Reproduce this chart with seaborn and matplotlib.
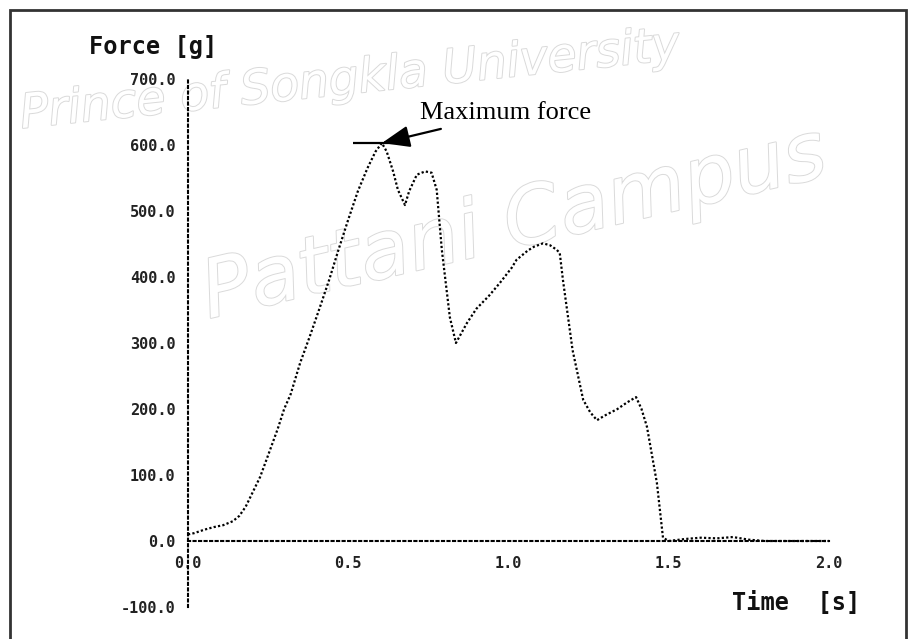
import matplotlib
matplotlib.use("Agg")
import matplotlib.pyplot as plt
import matplotlib.patheffects as pe
from matplotlib.patches import Rectangle
import seaborn as sns
import pandas as pd

# ---- data ----
time_s = [0.00, 0.02, 0.05, 0.08, 0.11, 0.14, 0.16, 0.18, 0.20, 0.225,
          0.25, 0.28, 0.30, 0.32, 0.35, 0.38, 0.41, 0.44, 0.47, 0.50,
          0.53, 0.56, 0.585, 0.605, 0.62, 0.64, 0.655, 0.677, 0.69, 0.714,
          0.74, 0.76, 0.776, 0.792, 0.817, 0.836, 0.87, 0.90, 0.94, 0.973,
          1.01, 1.025, 1.06, 1.08, 1.108, 1.13, 1.151, 1.16, 1.17, 1.20,
          1.233, 1.255, 1.276, 1.30, 1.34, 1.37, 1.398, 1.415, 1.432, 1.463,
          1.482, 1.50, 1.55, 1.60, 1.65, 1.70, 1.75, 1.80, 1.90, 2.00]
force_g = [10, 12, 17, 21, 24, 30, 38, 52, 72, 97,
           130, 170, 200, 222, 270, 310, 352, 395, 442, 487,
           530, 565, 590, 603, 590, 560, 532, 509, 530, 555,
           560, 558, 532, 441, 339, 300, 330, 352, 372, 391,
           414, 426, 440, 446, 451, 448, 441, 436, 395, 289,
           214, 195, 183, 190, 200, 210, 218, 200, 173, 88,
           5, 0, 3, 5, 4, 6, 2, 0, 0, 0]
x_ticks = [0.0, 0.5, 1.0, 1.5, 2.0]
y_ticks = [-100, 0, 100, 200, 300, 400, 500, 600, 700]
x_label = "Time  [s]"
y_label = "Force [g]"
annotation_text = "Maximum force"
watermark_lines = ["Prince of Songkla University", "Pattani Campus"]

df = pd.DataFrame({"time": time_s, "force": force_g})

sns.set_style("white")
plt.rcParams["font.family"] = ["DejaVu Sans Mono", "DejaVu Sans"]

W, H = 908, 639
fig = plt.figure(figsize=(W / 100, H / 100), dpi=100)

def fx(px):
    return px / W

def fy(py):
    return 1 - py / H

# watermark (behind everything)
wm_color = "#dadada"
fig.text(fx(18), fy(128), watermark_lines[0], fontsize=34, style="italic",
         family="DejaVu Sans", color="white", rotation=6, zorder=-5,
         ha="left", va="baseline",
         path_effects=[pe.withStroke(linewidth=1.4, foreground=wm_color)])
fig.text(fx(195), fy(318), watermark_lines[1], fontsize=58, style="italic",
         family="DejaVu Sans", color="white", rotation=13, zorder=-5,
         ha="left", va="baseline",
         path_effects=[pe.withStroke(linewidth=1.4, foreground=wm_color)])

# frame around the figure
fig.patches.append(Rectangle((fx(10), -0.05), fx(896), fy(10) + 0.05,
                             transform=fig.transFigure, fill=False,
                             edgecolor="#333333", linewidth=2, zorder=10))

ax = fig.add_axes([fx(188), fy(607), fx(829) - fx(188), fy(79) - fy(607)])
ax.patch.set_alpha(0)

sns.lineplot(data=df, x="time", y="force", ax=ax, color="black",
             linewidth=1.6, linestyle=(0, (1, 1)), estimator=None, sort=False)

ax.set_xlim(0, 2.0)
ax.set_ylim(-100, 700)
ax.set_xticks(x_ticks)
ax.set_yticks(y_ticks)
ax.set_xticklabels([f"{v:.1f}" for v in x_ticks])
ax.set_yticklabels([f"{v:.1f}" for v in y_ticks])
ax.set_xlabel("")
ax.set_ylabel("")

for s in ["top", "right"]:
    ax.spines[s].set_visible(False)
ax.spines["bottom"].set_position(("data", 0))
for s in ["left", "bottom"]:
    ax.spines[s].set_linestyle(":")
    ax.spines[s].set_linewidth(1.5)
    ax.spines[s].set_color("black")

ax.tick_params(axis="both", direction="out", length=6, width=1.2,
               color="black", labelsize=11, labelcolor="#222222")
ax.tick_params(axis="y", pad=3)
ax.tick_params(axis="x", pad=5)
for lab in ax.get_xticklabels() + ax.get_yticklabels():
    lab.set_fontweight("bold")

# annotation: maximum force
i_max = max(range(len(force_g)), key=lambda i: force_g[i])
t_max, f_max = time_s[i_max], force_g[i_max]
ax.hlines(f_max, t_max - 0.09, t_max + 0.063, color="black", linewidth=1.6)
ax.annotate(annotation_text, xy=(t_max, f_max), xytext=(t_max + 0.12, 648),
            textcoords="data", fontsize=19, family="Liberation Serif",
            ha="left", va="center", color="black",
            arrowprops=dict(arrowstyle="-|>,head_length=0.9,head_width=0.35",
                            color="black", linewidth=1.6,
                            shrinkA=4, shrinkB=0))

fig.text(fx(153), fy(47), y_label, fontsize=17, fontweight="bold",
         ha="center", va="center", color="#111111")
fig.text(fx(796), fy(603), x_label, fontsize=17, fontweight="bold",
         ha="center", va="center", color="#111111")

fig.savefig("out.png", dpi=100)
